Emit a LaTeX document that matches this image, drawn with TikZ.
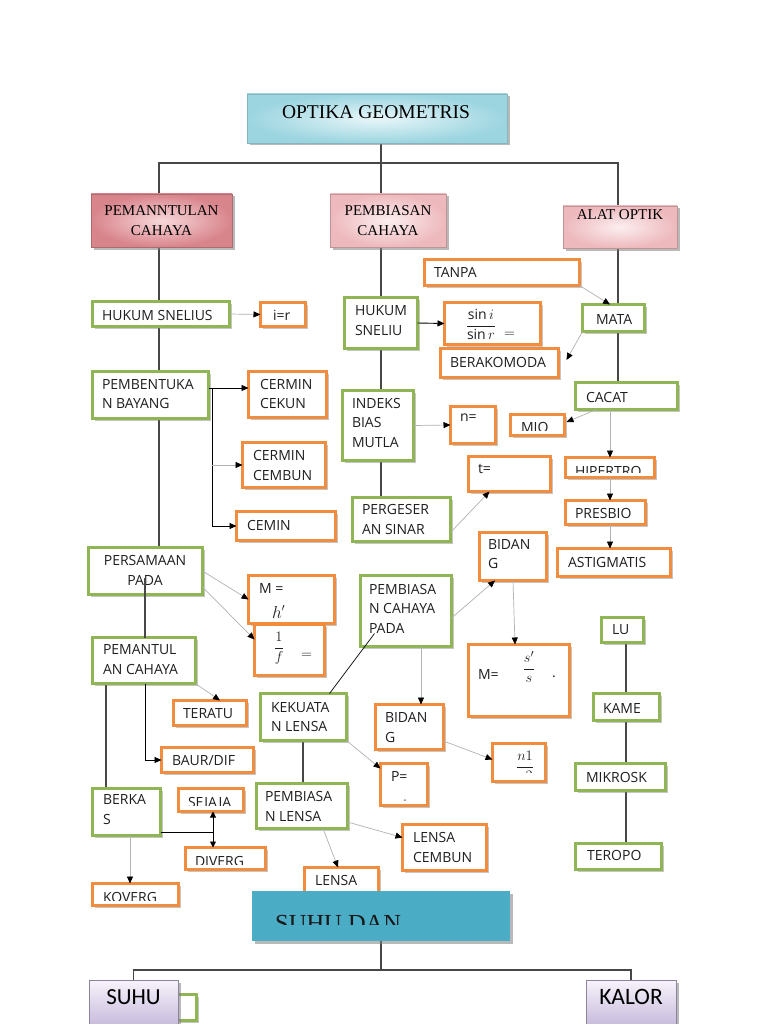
\documentclass[tikz,border=0pt]{standalone}
\usepackage{amsmath}
\usepackage{fontspec}
\setmainfont{Open Sans}
\newfontfamily\hserif{Liberation Serif}
\newfontfamily\hcal{Carlito}
\usetikzlibrary{arrows.meta,shadows}
\definecolor{gr}{HTML}{8FB555}
\definecolor{og}{HTML}{F28C3E}
\definecolor{tealD}{HTML}{9CD5E0}
\definecolor{tealL}{HTML}{E8F6F9}
\definecolor{redD}{HTML}{D8848B}
\definecolor{redL}{HTML}{F7D8DA}
\definecolor{pinkD}{HTML}{EDB9BD}
\definecolor{pinkL}{HTML}{FCEEEF}
\definecolor{aqua}{HTML}{4BACC6}
\definecolor{lavT}{HTML}{F7F3FB}
\definecolor{lavB}{HTML}{C9BCDD}
\pgfdeclarelayer{bg}
\pgfsetlayers{bg,main}
\newcommand\BX[6]{\node[#1,minimum width=#5pt-3pt,minimum height=#6pt-3pt] (#2) at ({#3+#5/2},{#4+#6/2}) {};}
% #3 = baseline of the LAST line
\newcommand\TX[4]{\node[txt,anchor=base west] (#1) at (#2,#3) {#4};}
\begin{document}
\begin{tikzpicture}[x=1pt,y=-1pt,
  gbox/.style={draw=gr,line width=2.9pt,fill=white,outer sep=0pt,inner sep=0pt,
    drop shadow={shadow xshift=2.5pt,shadow yshift=-2.5pt,opacity=0.45}},
  obox/.style={gbox,draw=og},
  txt/.style={inner sep=0pt,outer sep=0pt,font=\fontsize{14}{19.5}\selectfont,align=left,text=black!88},
  tree/.style={draw=black!72,line width=1.1pt},
  blk/.style={draw=black,line width=0.9pt},
  garr/.style={draw=black!30,line width=0.7pt,-{Triangle[length=7pt,width=6pt,color=black]}},
  barr/.style={draw=black,line width=0.9pt,-{Triangle[length=7pt,width=6pt]}},
  hsh/.style={drop shadow={shadow xshift=2.5pt,shadow yshift=-2.5pt,opacity=0.55}},
]
\useasboundingbox (0,0) rectangle (768,1024);

% ---------- headers ----------
\node[draw=tealD!85!black,line width=0.5pt,inner color=tealL,outer color=tealD,hsh,
  minimum width=260pt,minimum height=49pt,outer sep=0pt] (title) at (377,118.5) {};
\node[anchor=base,inner sep=0pt,font=\hserif\fontsize{19.5}{22}\selectfont] (title-t) at (376,118.5) {OPTIKA GEOMETRIS};

\node[draw=redD!80!black,line width=0.5pt,inner color=redL,outer color=redD,hsh,
  minimum width=141pt,minimum height=53pt,outer sep=0pt] (pem1) at (161.5,220.5) {};
\node[anchor=base,inner sep=0pt,align=center,font=\hserif\fontsize{15}{20}\selectfont] (pem1-t) at (161.5,235.7) {PEMANNTULAN\\CAHAYA};

\node[draw=pinkD!80!black,line width=0.5pt,inner color=pinkL,outer color=pinkD,hsh,
  minimum width=116pt,minimum height=53pt,outer sep=0pt] (pem2) at (388,220.5) {};
\node[anchor=base,inner sep=0pt,align=center,font=\hserif\fontsize{15}{20}\selectfont] (pem2-t) at (388,235.7) {PEMBIASAN\\CAHAYA};

\node[draw=pinkD!80!black,line width=0.5pt,inner color=pinkL,outer color=pinkD,hsh,
  minimum width=114pt,minimum height=42pt,outer sep=0pt] (alat) at (620,227) {};
\node[anchor=base,inner sep=0pt,font=\hserif\fontsize{15}{20}\selectfont] (alat-t) at (620,220) {ALAT OPTIK};

% ---------- left column ----------
\BX{gbox}{hs}{91}{300}{140}{28}
\TX{hs-t}{102}{320}{HUKUM SNELIUS}
\BX{obox}{ir}{259}{301}{48}{27}
\TX{ir-t}{273}{320}{i=r}
\BX{gbox}{pb}{91}{370}{119}{50}
\TX{pb-t}{102}{408.5}{PEMBENTUKA\\N BAYANG}
\BX{obox}{cc}{247}{370}{81}{49}
\TX{cc-t}{260}{408.5}{CERMIN\\CEKUN}
\BX{obox}{cb}{241}{441}{86}{48}
\TX{cb-t}{253}{480}{CERMIN\\CEMBUN}
\BX{obox}{cm}{235}{510}{102}{32}
\TX{cm-t}{247}{530}{CEMIN}
\BX{gbox}{pp}{87}{546}{117}{50}
\node[txt,align=center,anchor=base] (pp-t) at (145,585) {PERSAMAAN\\PADA};
\BX{obox}{m1}{247}{574}{89}{51}
\TX{m1-t}{259}{593}{M =}
\node[txt,anchor=base west,font=\fontsize{16}{19}\selectfont] (m1-h) at (272,618) {$h'$};
\BX{obox}{f}{253}{623}{73}{54}
\node[txt,anchor=base,font=\fontsize{15}{19}\selectfont] (f-t) at (279,651.5) {$\dfrac{1}{f}$};
\TX{f-eq}{301}{658.5}{$=$}
\BX{gbox}{pc}{91}{636}{106}{49}
\TX{pc-t}{103}{674}{PEMANTUL\\AN CAHAYA}
\BX{obox}{ter2}{172}{699}{76}{28}
\TX{ter2-t}{183}{718}{TERATU}
\BX{obox}{baur}{160}{746}{95}{28}
\TX{baur-t}{172}{765}{BAUR/DIF}
\BX{gbox}{bk}{91}{787}{71}{50}
\TX{bk-t}{103}{824}{BERKA\\S}
\BX{obox}{sej}{177}{787}{68}{26}
\begin{scope}\clip (180,790) rectangle (242,805);\TX{sej-t}{188}{807}{SEJAJA}\end{scope}
\BX{obox}{div}{184}{846}{83}{25}
\begin{scope}\clip (187,849) rectangle (264,864.5);\TX{div-t}{195}{866}{DIVERG}\end{scope}
\BX{obox}{kov}{91}{882}{89}{25}
\begin{scope}\clip (94,885) rectangle (177,900);\TX{kov-t}{103}{902}{KOVERG}\end{scope}

% ---------- middle column ----------
\BX{gbox}{hsn}{343}{296}{76}{54}
\TX{hsn-t}{355}{335}{HUKUM\\SNELIU}
\BX{obox}{sin}{443}{301}{99}{45}
\begin{scope}\clip (446,304) rectangle (539,339);
\node[txt,anchor=base] (sin-t) at (481,329.4) {$\dfrac{\sin i}{\sin r}$};
\TX{sin-eq}{504}{337.5}{$=$}
\end{scope}
\BX{obox}{ber}{439}{347}{121}{32}
\TX{ber-t}{450}{367}{BERAKOMODA}
\BX{obox}{tanpa}{423}{258}{158}{29}
\TX{tanpa-t}{434}{277}{TANPA}
\BX{gbox}{ibm}{341}{389}{74}{73}
\TX{ibm-t}{352}{447}{INDEKS\\BIAS\\MUTLA}
\BX{obox}{n}{449}{405}{48}{40}
\TX{n-t}{460}{421}{n=}
\BX{obox}{t}{467}{455}{85}{38}
\TX{t-t}{478}{473}{t=}
\BX{gbox}{ps}{351}{496}{101}{47}
\TX{ps-t}{362}{534}{PERGESER\\AN SINAR}
\BX{obox}{bid1}{478}{531}{70}{51}
\TX{bid1-t}{488}{568.5}{BIDAN\\G}
\BX{gbox}{pcp}{359}{574}{94}{74}
\TX{pcp-t}{369}{633}{PEMBIASA\\N CAHAYA\\PADA}
\BX{obox}{m2}{467}{643}{104}{75}
\TX{m2-t}{478}{679}{M=}
\node[txt,anchor=base,font=\fontsize{15}{19}\selectfont] (m2-f) at (529,672.6) {$\dfrac{s'}{s}$};
\TX{m2-dot}{552}{677}{.}
\BX{gbox}{kl}{259}{692}{89}{50}
\TX{kl-t}{271}{731.5}{KEKUATA\\N LENSA}
\BX{obox}{bid2}{374}{703}{71}{48}
\TX{bid2-t}{385}{742}{BIDAN\\G}
\BX{obox}{n1}{491}{742}{56}{41}
\begin{scope}\clip (494,745) rectangle (544,772.5);
\node[txt,anchor=base,font=\fontsize{15}{19}\selectfont] (n1-t) at (525,770.6) {$\dfrac{n1}{n2}$};
\end{scope}
\BX{obox}{p}{379}{762}{50}{45}
\TX{p-t}{391}{781}{P=}
\begin{scope}\clip (382,765) rectangle (426,800);
\node[txt,anchor=base,font=\fontsize{10}{12}\selectfont] (p-f) at (405,806) {$1$};
\end{scope}
\BX{gbox}{pl}{255}{782}{94}{48}
\TX{pl-t}{265}{821}{PEMBIASA\\N LENSA}
\BX{obox}{lc}{401}{823}{87}{49}
\TX{lc-t}{413}{862}{LENSA\\CEMBUN}
\BX{obox}{lensa}{303}{866}{77}{29}
\TX{lensa-t}{315}{885}{LENSA}

% ---------- right column ----------
\BX{gbox}{mata}{581}{303}{65}{30}
\TX{mata-t}{596}{324}{MATA}
\BX{gbox}{cacat}{574}{381}{105}{30}
\TX{cacat-t}{586}{402}{CACAT}
\BX{obox}{mio}{509}{413}{57}{24}
\begin{scope}\clip (512,416) rectangle (563,430);\TX{mio-t}{521}{432}{MIO}\end{scope}
\BX{obox}{hip}{564}{456}{92}{23}
\begin{scope}\clip (567,459) rectangle (653,472.5);\TX{hip-t}{575}{476}{HIPERTRO}\end{scope}
\BX{obox}{pre}{564}{499}{83}{27}
\TX{pre-t}{575}{518}{PRESBIO}
\BX{obox}{ast}{556}{547}{116}{31}
\TX{ast-t}{568}{567}{ASTIGMATIS}
\BX{gbox}{lu}{600}{616}{45}{28}
\TX{lu-t}{612}{634}{LU}
\BX{gbox}{kame}{592}{692}{69}{30}
\TX{kame-t}{603}{713}{KAME}
\BX{gbox}{mik}{574}{762}{93}{30}
\TX{mik-t}{586}{782}{MIKROSK}
\BX{gbox}{ter}{574}{842}{89}{29}
\TX{ter-t}{587}{860}{TEROPO}

% ---------- bottom ----------
\node[fill=aqua,hsh,minimum width=258pt,minimum height=50pt,outer sep=0pt] (teal) at (381,916) {};
\begin{scope}\clip (252,891) rectangle (510,924.5);
\node[anchor=base west,inner sep=0pt,text=black!90,font=\hserif\fontsize{24.5}{28}\selectfont] (teal-t) at (275,931) {SUHU DAN};
\end{scope}
\BX{gbox}{sg}{176}{993}{22}{29}
\node[draw=lavB!70!black,line width=0.6pt,top color=lavT,bottom color=lavB,hsh,
  minimum width=89pt,minimum height=44pt,outer sep=0pt] (suhu) at (133.5,1002) {};
\node[anchor=base,inner sep=0pt,font=\hcal\fontsize{23}{26}\selectfont] (suhu-t) at (133.5,1004) {SUHU};
\node[draw=lavB!70!black,line width=0.6pt,top color=lavT,bottom color=lavB,hsh,
  minimum width=90pt,minimum height=44pt,outer sep=0pt] (kalor) at (631,1002) {};
\node[anchor=base,inner sep=0pt,font=\hcal\fontsize{23.5}{26}\selectfont] (kalor-t) at (631,1004) {KALOR};

% ---------- tree connectors (behind) ----------
\begin{pgfonlayer}{bg}
\fill[white] (0,0) rectangle (768,1024);
\coordinate (J) at (381,163);
\coordinate (JL) at (159,163);
\coordinate (JR) at (618,163);
\coordinate (Q) at (626,0);
\coordinate (B) at (106,0);
\coordinate (K) at (303,0);
\coordinate (S) at (381,970);
\draw[tree] (title.south -| J) -- (J);
\draw[tree] (pem1.north -| JL) |- (JR) -- (alat.north -| JR);
\draw[tree] (J) -- (pem2.north -| J);
\draw[tree] (pem1.south -| JL) -- (hs.north -| JL);
\draw[tree] (hs.south -| JL) -- (pb.north -| JL);
\draw[tree] (pb.south -| JL) -- (pp.north -| JL);
\draw[tree] (pem2.south -| J) -- (hsn.north -| J);
\draw[tree] (hsn.south -| J) -- (ibm.north -| J);
\draw[tree] (ibm.south -| J) -- (ps.north -| J);
\draw[tree] (alat.south -| JR) -- (mata.north -| JR);
\draw[tree] (mata.south -| JR) -- (cacat.north -| JR);
\draw[tree] (lu.south -| Q) -- (kame.north -| Q);
\draw[tree] (kame.south -| Q) -- (mik.north -| Q);
\draw[tree] (mik.south -| Q) -- (ter.north -| Q);
\draw[tree] (pc.south -| B) -- (bk.north -| B);
\draw[tree] (kl.south -| K) -- (pl.north -| K);
\draw[tree] (teal.south) -- (S);
\draw[tree] (suhu.north) |- (S) -| (kalor.north);
\end{pgfonlayer}

% ---------- other connectors ----------
\coordinate (P1) at (145,578);
\coordinate (P2) at (145,0);
\coordinate (PB) at (212,388);
\coordinate (BJ) at (213,832);
\coordinate (KV) at (130,0);
\draw[tree] (P1) -- (P1 |- pc.north);
\draw[barr] (pc.south -| P2) |- (baur.west);
\draw[barr] (PB -| pb.east) -- (PB -| cc.west);
\draw[blk] (PB) -- (PB |- cm.west);
\draw[barr] (PB |- cm.west) -- (cm.west);
\draw[garr] (PB |- cb.west) -- (cb.west);
\draw[barr] (hsn.east) -- (sin.west);
\draw[blk] (bk.east |- BJ) -- (BJ);
\draw[blk,{Triangle[length=6pt,width=6pt]}-{Triangle[length=6pt,width=6pt]}] (BJ |- sej.south) -- (BJ |- div.north);
\draw[black,line width=0.7pt] ([xshift=26pt]kl.north) -- ([xshift=14pt,yshift=13pt]pcp.south west);

\draw[garr] (hs.east) -- (ir.west);
\draw[garr] (pp.east) -- (m1.west);
\draw[garr] ([yshift=-16pt]pp.east) -- ([yshift=-15pt]f.north west);
\draw[garr] (pc.south east) -- ([xshift=10pt]ter2.north);
\draw[garr] (bk.south -| KV) -- (kov.north -| KV);
\draw[garr] (ibm.east) -- (n.west);
\draw[garr] ([yshift=-13pt]ps.east) -- ([xshift=-20pt]t.south);
\draw[garr] ([yshift=-7pt]pcp.east) -- ([xshift=-18pt]bid1.south);
\draw[garr] (bid1.south) -- ([xshift=-4pt]m2.north);
\draw[garr] ([xshift=15pt]pcp.south) -- ([xshift=11.5pt]bid2.north);
\draw[garr] ([yshift=-14pt]bid2.east) -- ([yshift=3pt]n1.west);
\draw[garr] (kl.south east) -- ([yshift=-5pt]p.north west);
\draw[garr] ([yshift=-16pt]pl.east) -- ([yshift=10pt]lc.west);
\draw[garr] ([xshift=21pt]pl.south) -- ([xshift=-3.5pt]lensa.north);
\draw[garr] (tanpa.south east) -- ([xshift=-3.5pt]mata.north);
\draw[garr] (mata.south west) -- ([xshift=8pt,yshift=3pt]ber.east);
\draw[garr] ([xshift=-30pt]cacat.south) -- ([xshift=2pt,yshift=3pt]mio.east);
\draw[garr] (hip.north |- cacat.south) -- (hip.north);
\draw[garr] (hip.south) -- (hip.south |- pre.north);
\draw[garr] (hip.south |- pre.south) -- (hip.south |- ast.north);
\end{tikzpicture}
\end{document}
